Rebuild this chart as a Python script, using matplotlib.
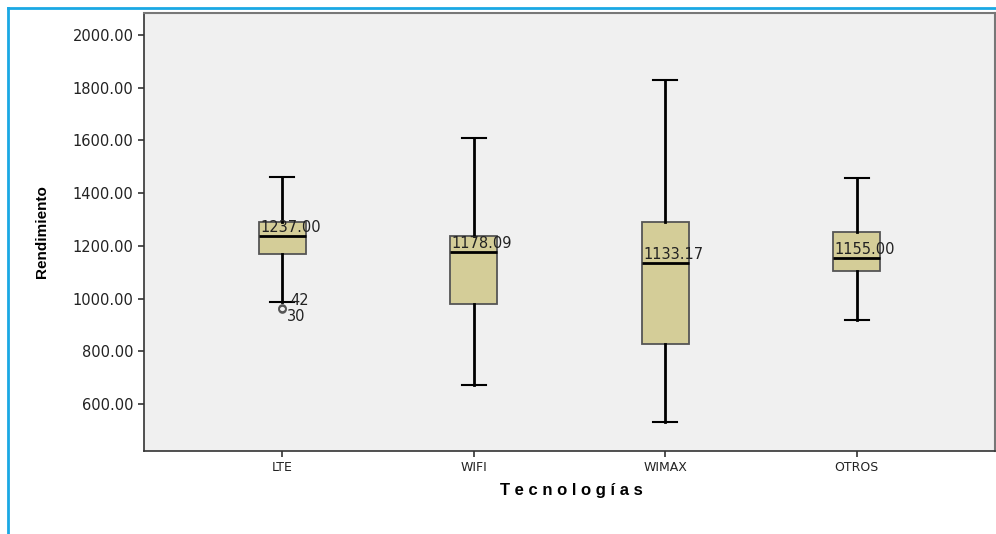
import matplotlib.pyplot as plt
from matplotlib.lines import Line2D

plt.rcParams['font.family'] = ['DejaVu Sans']

# Resumen de cada grupo (valores del diagrama de caja)
tecnologias = ['LTE', 'WIFI', 'WIMAX', 'OTROS']
minimos = [986, 671, 530, 918]
q1 = [1168, 979, 829, 1104]
medianas = [1237.00, 1178.09, 1133.17, 1155.00]
q3 = [1290, 1237, 1291, 1252]
maximos = [1461, 1609, 1829, 1457]
atipicos = [[966, 961], [], [], []]
etiquetas_atipicos = [['42', '30'], [], [], []]

stats = []
for i, nombre in enumerate(tecnologias):
    stats.append(dict(label=nombre, whislo=minimos[i], q1=q1[i], med=medianas[i],
                      q3=q3[i], whishi=maximos[i], fliers=atipicos[i]))

fig = plt.figure(figsize=(9.96, 5.34), dpi=100)
ax = fig.add_axes([144 / 996, 1 - 451 / 534, 851 / 996, 438 / 534])
ax.set_facecolor('#f0f0f0')

posiciones = [1, 2, 3, 4]
ax.bxp(stats, positions=posiciones, widths=0.245, patch_artist=True,
       boxprops=dict(facecolor='#d4cd98', edgecolor='#555555', linewidth=1.3),
       medianprops=dict(color='black', linewidth=2),
       whiskerprops=dict(color='black', linewidth=2),
       capprops=dict(color='black', linewidth=1.5),
       capwidths=0.125,
       flierprops=dict(marker='o', markersize=5, markerfacecolor='none',
                       markeredgecolor='#555555', markeredgewidth=1.2))

# Etiquetas de la mediana sobre cada caja
for x, m in zip(posiciones, medianas):
    ax.text(x - 0.115, m + 4, f'{m:.2f}', fontsize=10.5, color='#222222',
            ha='left', va='bottom')

# Etiquetas de los casos atipicos
for x, vals, labs in zip(posiciones, atipicos, etiquetas_atipicos):
    for j, (v, lab) in enumerate(zip(vals, labs)):
        dy = 28 if j == 0 else -30
        dx = 0.045 if j == 0 else 0.025
        ax.text(x + dx, v + dy, lab, fontsize=10.5, color='#222222',
                ha='left', va='center')

ax.set_xlim(0.279, 4.723)
ax.set_ylim(421.5, 2083.5)
ax.set_yticks([600, 800, 1000, 1200, 1400, 1600, 1800, 2000])
ax.set_yticklabels([f'{v:.2f}' for v in ax.get_yticks()], fontsize=10.5)
ax.set_xticks(posiciones)
ax.set_xticklabels(tecnologias, fontsize=9)
ax.tick_params(axis='both', length=4, width=1.2, color='#333333', labelcolor='#222222')

for lado in ['left', 'bottom']:
    ax.spines[lado].set_color('#333333')
    ax.spines[lado].set_linewidth(1.2)
for lado in ['top', 'right']:
    ax.spines[lado].set_color('#777777')
    ax.spines[lado].set_linewidth(1.5)

fig.text(571 / 996, 1 - 490 / 534, 'T e c n o l o g í a s', fontsize=12,
         fontweight='bold', ha='center', va='center',
         family=['Liberation Sans', 'DejaVu Sans'])
fig.text(42 / 996, 1 - 232 / 534, 'Rendimiento', fontsize=11, fontweight='bold',
         rotation=90, ha='center', va='center', fontstretch='condensed',
         family=['Liberation Sans Narrow', 'Liberation Sans'])

# Marco azul del documento
fig.add_artist(Line2D([8 / 996, 1], [1 - 7.5 / 534, 1 - 7.5 / 534],
                      transform=fig.transFigure, color='#1aa8e4', linewidth=2))
fig.add_artist(Line2D([8 / 996, 8 / 996], [0, 1 - 7.5 / 534],
                      transform=fig.transFigure, color='#1aa8e4', linewidth=2))

fig.savefig('out.png', dpi=100)
